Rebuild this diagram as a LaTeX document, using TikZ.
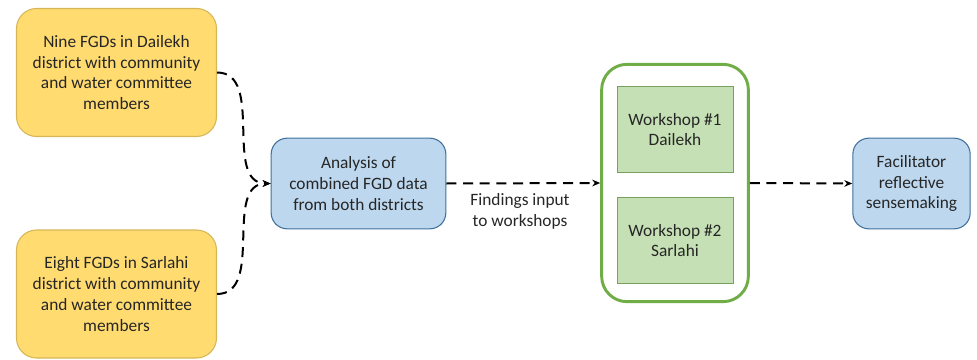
\documentclass[tikz,border=0pt]{standalone}
\usepackage{fontspec}
\setmainfont{Carlito}
\definecolor{amarillo}{RGB}{255,219,112}
\definecolor{amarilloborde}{RGB}{214,182,86}
\definecolor{azulclaro}{RGB}{189,215,238}
\definecolor{azulborde}{RGB}{65,113,156}
\definecolor{verdeclaro}{RGB}{197,224,180}
\definecolor{verde}{RGB}{112,173,71}
\definecolor{verdeborde}{RGB}{120,160,95}
\usepackage{tikz}
\usetikzlibrary{arrows.meta,shapes,positioning,calc}

\begin{document}
\begin{tikzpicture}[x=0.75pt,y=-0.75pt,
    texto/.style={font=\fontsize{13}{15.6}\selectfont,align=center,text=black!85},
    fgd/.style={texto,draw=amarilloborde,fill=amarillo,rounded corners=15pt,
                line width=0.8pt,minimum width=150pt,minimum height=96pt},
    proceso/.style={texto,draw=azulborde,fill=azulclaro,rounded corners=12pt,
                    line width=0.8pt,minimum height=68pt},
    taller/.style={texto,draw=verdeborde,fill=verdeclaro,line width=0.6pt,
                   minimum width=87pt,minimum height=64pt},
    flecha/.style={-{Stealth[length=6pt,width=5pt]},dashed,
                   dash pattern=on 7.5pt off 5pt,line width=1.5pt}]
  \useasboundingbox (0,0) rectangle (977,360);
  % focus groups
  \node[fgd] (dailekh) at (116.5,72.5) {Nine FGDs in Dailekh\\district with community\\and water committee\\members};
  \node[fgd] (sarlahi) at (116.5,294) {Eight FGDs in Sarlahi\\district with community\\and water committee\\members};
  % analysis
  \node[proceso,minimum width=131pt] (analisis) at (358.5,183.5) {Analysis of\\combined FGD data\\from both districts};
  % workshops
  \node[draw=verde,line width=2.2pt,rounded corners=19pt,
        minimum width=110pt,minimum height=178pt] (talleres) at (675,183) {};
  \node[taller] (w1) at (675,129.5) {Workshop \#1\\Dailekh};
  \node[taller] (w2) at (675,240.5) {Workshop \#2\\Sarlahi};
  % sensemaking
  \node[proceso,minimum width=88pt] (facil) at (911.5,183.5) {Facilitator\\reflective\\sensemaking};
  \node[texto] (hallazgos) at (520,211) {Findings input\\to workshops};
  \draw[flecha] (dailekh.east) to[out=0,in=180] (analisis.west);
  \draw[flecha] (sarlahi.east) to[out=0,in=180] (analisis.west);
  \draw[flecha] (analisis.east) -- (talleres.west);
  \draw[flecha] (talleres.east) -- (facil.west);
\end{tikzpicture}
\end{document}
